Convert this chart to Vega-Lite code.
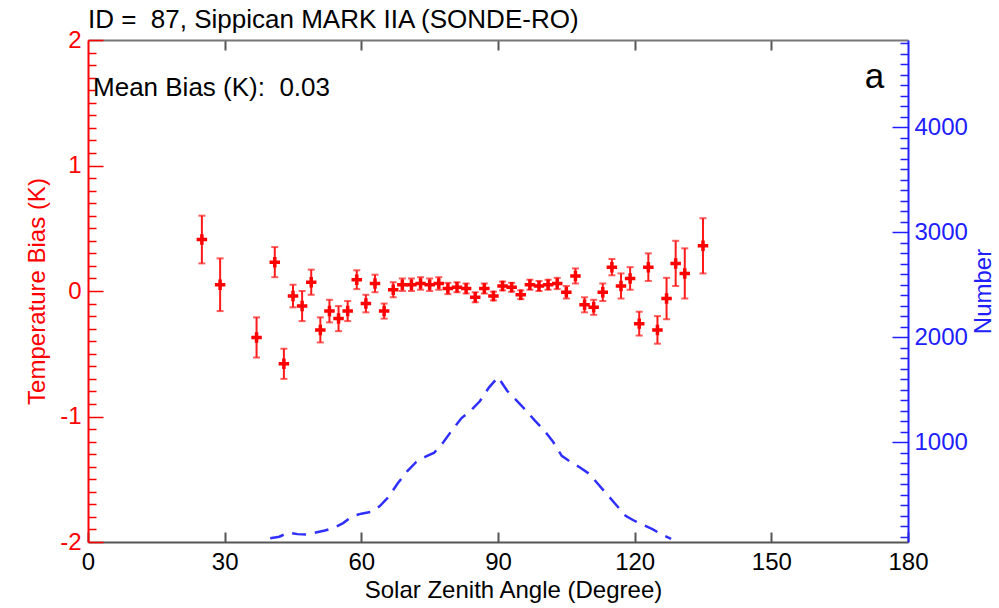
{
  "$schema": "https://vega.github.io/schema/vega-lite/v6.json",
  "width": 820,
  "height": 502,
  "autosize": {"type": "none"},
  "padding": {"left": 88, "top": 40, "right": 91, "bottom": 66},
  "background": "white",
  "config": {"view": {"stroke": null}, "font": "Liberation Sans"},
  "title": {"text": "ID =\u00a0 87, Sippican MARK IIA (SONDE-RO)", "anchor": "start", "frame": "group", "fontSize": 26, "fontWeight": "normal", "color": "black", "baseline": "alphabetic", "offset": 10, "dy": 36, "font": "Liberation Sans"},
  "datasets": {
    "bias": [
      {"sza": 25, "bias": 0.41, "err": 0.19},
      {"sza": 29, "bias": 0.05, "err": 0.21},
      {"sza": 37, "bias": -0.37, "err": 0.16},
      {"sza": 41, "bias": 0.23, "err": 0.12},
      {"sza": 43, "bias": -0.58, "err": 0.12},
      {"sza": 45, "bias": -0.04, "err": 0.09},
      {"sza": 47, "bias": -0.12, "err": 0.12},
      {"sza": 49, "bias": 0.07, "err": 0.10},
      {"sza": 51, "bias": -0.31, "err": 0.10},
      {"sza": 53, "bias": -0.16, "err": 0.09},
      {"sza": 55, "bias": -0.22, "err": 0.10},
      {"sza": 57, "bias": -0.16, "err": 0.08},
      {"sza": 59, "bias": 0.09, "err": 0.075},
      {"sza": 61, "bias": -0.10, "err": 0.07},
      {"sza": 63, "bias": 0.06, "err": 0.07},
      {"sza": 65, "bias": -0.16, "err": 0.06},
      {"sza": 67, "bias": 0.01, "err": 0.06},
      {"sza": 69, "bias": 0.05, "err": 0.05},
      {"sza": 71, "bias": 0.05, "err": 0.05},
      {"sza": 73, "bias": 0.06, "err": 0.05},
      {"sza": 75, "bias": 0.05, "err": 0.05},
      {"sza": 77, "bias": 0.06, "err": 0.05},
      {"sza": 79, "bias": 0.02, "err": 0.045},
      {"sza": 81, "bias": 0.03, "err": 0.04},
      {"sza": 83, "bias": 0.02, "err": 0.04},
      {"sza": 85, "bias": -0.05, "err": 0.04},
      {"sza": 87, "bias": 0.02, "err": 0.04},
      {"sza": 89, "bias": -0.04, "err": 0.035},
      {"sza": 91, "bias": 0.04, "err": 0.035},
      {"sza": 93, "bias": 0.03, "err": 0.035},
      {"sza": 95, "bias": -0.03, "err": 0.035},
      {"sza": 97, "bias": 0.05, "err": 0.04},
      {"sza": 99, "bias": 0.04, "err": 0.04},
      {"sza": 101, "bias": 0.05, "err": 0.04},
      {"sza": 103, "bias": 0.06, "err": 0.045},
      {"sza": 105, "bias": -0.01, "err": 0.05},
      {"sza": 107, "bias": 0.12, "err": 0.06},
      {"sza": 109, "bias": -0.11, "err": 0.06},
      {"sza": 111, "bias": -0.13, "err": 0.06},
      {"sza": 113, "bias": -0.01, "err": 0.07},
      {"sza": 115, "bias": 0.19, "err": 0.065},
      {"sza": 117, "bias": 0.04, "err": 0.10},
      {"sza": 119, "bias": 0.10, "err": 0.09},
      {"sza": 121, "bias": -0.26, "err": 0.095},
      {"sza": 123, "bias": 0.19, "err": 0.11},
      {"sza": 125, "bias": -0.31, "err": 0.11},
      {"sza": 127, "bias": -0.06, "err": 0.165},
      {"sza": 129, "bias": 0.22, "err": 0.18},
      {"sza": 131, "bias": 0.14, "err": 0.20},
      {"sza": 135, "bias": 0.36, "err": 0.22}
    ],
    "counts": [
      {"sza": 40, "n": 85}, {"sza": 42, "n": 100}, {"sza": 44, "n": 140}, {"sza": 46, "n": 125},
      {"sza": 48, "n": 120}, {"sza": 50, "n": 140}, {"sza": 52, "n": 160}, {"sza": 54, "n": 185},
      {"sza": 56, "n": 230}, {"sza": 58, "n": 295}, {"sza": 60, "n": 320}, {"sza": 62, "n": 335},
      {"sza": 64, "n": 390}, {"sza": 66, "n": 480}, {"sza": 68, "n": 610}, {"sza": 70, "n": 720},
      {"sza": 72, "n": 810}, {"sza": 74, "n": 860}, {"sza": 76, "n": 900}, {"sza": 78, "n": 1000},
      {"sza": 80, "n": 1120}, {"sza": 82, "n": 1230}, {"sza": 84, "n": 1300}, {"sza": 86, "n": 1390},
      {"sza": 88, "n": 1520}, {"sza": 90, "n": 1620}, {"sza": 92, "n": 1490}, {"sza": 94, "n": 1400},
      {"sza": 96, "n": 1310}, {"sza": 98, "n": 1210}, {"sza": 100, "n": 1120}, {"sza": 102, "n": 1010},
      {"sza": 104, "n": 870}, {"sza": 106, "n": 810}, {"sza": 108, "n": 760}, {"sza": 110, "n": 700},
      {"sza": 112, "n": 600}, {"sza": 114, "n": 500}, {"sza": 116, "n": 400}, {"sza": 118, "n": 300},
      {"sza": 120, "n": 250}, {"sza": 122, "n": 210}, {"sza": 124, "n": 170}, {"sza": 126, "n": 120},
      {"sza": 128, "n": 80}
    ],
    "notes": [
      {"label": "Mean Bias (K):\u00a0 0.03", "sza": 1.1, "bias": 1.555}
    ],
    "panel": [
      {"label": "a", "sza": 170.5, "bias": 1.62}
    ]
  },
  "layer": [
    {
      "layer": [
        {
          "mark": {"type": "rule", "color": "#555555", "strokeWidth": 2.5},
          "encoding": {"y": {"datum": 0, "type": "quantitative"}}
        },
        {
          "data": {"name": "bias"},
          "mark": {"type": "errorbar", "color": "#ff1a1a", "thickness": 2, "ticks": {"size": 7, "thickness": 2}},
          "encoding": {
            "x": {"field": "sza", "type": "quantitative"},
            "y": {"field": "bias", "type": "quantitative"},
            "yError": {"field": "err"}
          }
        },
        {
          "data": {"name": "bias"},
          "mark": {"type": "point", "shape": "M-1,0H1M0,-1V1", "filled": false, "stroke": "#ff0000", "strokeWidth": 3.5, "size": 110, "opacity": 1},
          "encoding": {
            "x": {"field": "sza", "type": "quantitative"},
            "y": {"field": "bias", "type": "quantitative"}
          }
        },
        {
          "data": {"name": "notes"},
          "mark": {"type": "text", "align": "left", "baseline": "alphabetic", "fontSize": 26, "color": "black", "font": "Liberation Sans"},
          "encoding": {
            "x": {"field": "sza", "type": "quantitative"},
            "y": {"field": "bias", "type": "quantitative"},
            "text": {"field": "label"}
          }
        },
        {
          "data": {"name": "panel"},
          "mark": {"type": "text", "align": "left", "baseline": "alphabetic", "fontSize": 35, "color": "black", "font": "Liberation Sans"},
          "encoding": {
            "x": {"field": "sza", "type": "quantitative"},
            "y": {"field": "bias", "type": "quantitative"},
            "text": {"field": "label"}
          }
        }
      ],
      "encoding": {
        "x": {
          "field": "sza", "type": "quantitative",
          "scale": {"domain": [0, 180], "nice": false, "zero": false},
          "axis": {
            "orient": "bottom", "values": [0, 30, 60, 90, 120, 150, 180], "format": "d",
            "title": "Solar Zenith Angle (Degree)", "titleFontSize": 24, "titleFontWeight": "normal", "titleColor": "black", "titlePadding": 4, "titleX": 425,
            "labelFontSize": 24, "labelColor": "black", "labelFlush": false, "labelOverlap": false, "labelPadding": 18,
            "tickSize": -10, "tickColor": "#555555", "tickWidth": 2, "domainColor": "#555555", "domainWidth": 2, "grid": false
          }
        },
        "y": {
          "field": "bias", "type": "quantitative",
          "scale": {"domain": [-2, 2], "nice": false, "zero": false},
          "axis": {
            "orient": "left",
            "values": [-2, -1.9, -1.8, -1.7, -1.6, -1.5, -1.4, -1.3, -1.2, -1.1, -1, -0.9, -0.8, -0.7, -0.6, -0.5, -0.4, -0.3, -0.2, -0.1, 0, 0.1, 0.2, 0.3, 0.4, 0.5, 0.6, 0.7, 0.8, 0.9, 1, 1.1, 1.2, 1.3, 1.4, 1.5, 1.6, 1.7, 1.8, 1.9, 2],
            "labelExpr": "abs(datum.value - round(datum.value)) < 0.000001 ? '' + round(datum.value) : ''",
            "labelOverlap": false, "labelFlush": false, "labelBound": false,
            "labelFontSize": 24, "labelColor": "#ff0000", "labelPadding": 22,
            "tickSize": {"condition": {"test": "abs(datum.value - round(datum.value)) < 0.000001", "value": -15}, "value": -8},
            "tickColor": "#ff0000", "tickWidth": 1.5, "domainColor": "#ff0000", "domainWidth": 2, "grid": false,
            "title": "Temperature Bias (K)", "titleFontSize": 24, "titleFontWeight": "normal", "titleColor": "#ff0000", "titlePadding": 10
          }
        }
      }
    },
    {
      "data": {"name": "counts"},
      "mark": {"type": "line", "color": "#2f2fff", "strokeWidth": 2.5, "strokeDash": [14, 9]},
      "encoding": {
        "x": {
          "field": "sza", "type": "quantitative",
          "scale": {"domain": [0, 180], "nice": false, "zero": false},
          "axis": {
            "orient": "top", "values": [30, 60, 90, 120, 150], "labels": false, "title": null,
            "tickSize": -10, "tickColor": "#555555", "tickWidth": 2, "domainColor": "#777777", "domainWidth": 2, "grid": false
          }
        },
        "y": {
          "field": "n", "type": "quantitative",
          "scale": {"domain": [50, 4830], "nice": false, "zero": false},
          "axis": {
            "orient": "right",
            "values": [100, 200, 300, 400, 500, 600, 700, 800, 900, 1000, 1100, 1200, 1300, 1400, 1500, 1600, 1700, 1800, 1900, 2000, 2100, 2200, 2300, 2400, 2500, 2600, 2700, 2800, 2900, 3000, 3100, 3200, 3300, 3400, 3500, 3600, 3700, 3800, 3900, 4000, 4100, 4200, 4300, 4400, 4500, 4600, 4700, 4800],
            "format": "d",
            "labelExpr": "datum.value % 1000 == 0 ? datum.label : ''",
            "labelOverlap": false, "labelFlush": false, "labelBound": false,
            "labelFontSize": 24, "labelColor": "#2020ff", "labelPadding": 22,
            "tickSize": {"condition": {"test": "datum.value % 1000 == 0", "value": -16}, "value": -8},
            "tickColor": "#2020ff", "tickWidth": 1.5, "domainColor": "#2020ff", "domainWidth": 2, "grid": false,
            "title": "Number", "titleAngle": 270, "titleFontSize": 24, "titleFontWeight": "normal", "titleColor": "#2020ff", "titlePadding": 28
          }
        }
      }
    }
  ],
  "resolve": {"scale": {"y": "independent"}, "axis": {"x": "independent"}}
}
